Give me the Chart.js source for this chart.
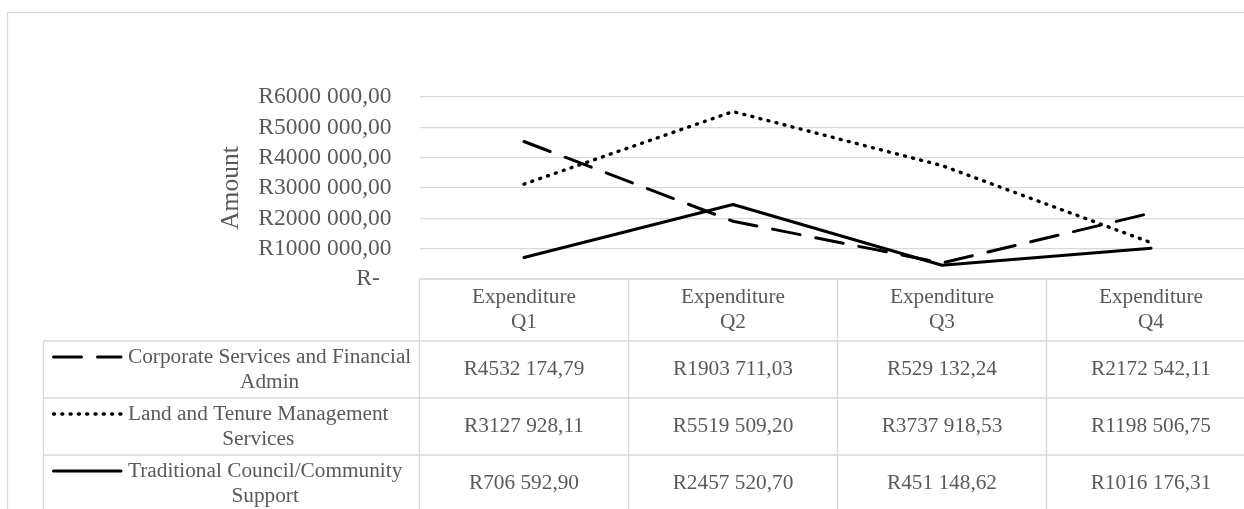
<!DOCTYPE html>
<html>
<head>
<meta charset="utf-8">
<script src="https://cdn.jsdelivr.net/npm/chart.js@4"></script>
<style>
  html, body { margin: 0; padding: 0; background: #fff; overflow: hidden; }
  #wrap { position: relative; width: 1270px; height: 520px; }
</style>
</head>
<body>
<div id="wrap"><canvas id="c" width="1270" height="520"></canvas></div>
<script>
// Quarterly expenditure per programme
const categories = [['Expenditure', 'Q1'], ['Expenditure', 'Q2'], ['Expenditure', 'Q3'], ['Expenditure', 'Q4']];
const seriesNames = [
  ['Corporate Services and Financial', 'Admin'],
  ['Land and Tenure Management', 'Services'],
  ['Traditional Council/Community', 'Support']
];
const corporateServices = [4532174.79, 1903711.03, 529132.24, 2172542.11];
const landTenure = [3127928.11, 5519509.20, 3737918.53, 1198506.75];
const traditionalCouncil = [706592.90, 2457520.70, 451148.62, 1016176.31];
const yMax = 6000000;
const yStep = 1000000;

const FONT = "'Liberation Serif', 'Times New Roman', serif";
const TEXT = '#595959';
const GRID = '#d9d9d9';

// Line styles per series (dash pattern used for both plot and table key)
const dashes = [[28, 16], [1, 7.3], []];
const widths = [3, 3.4, 3];

// Rand currency: "R4532 174,79", zero shown as "R-"
function rand(v) {
  if (v === 0) return 'R-  ';
  const [i, d] = v.toFixed(2).split('.');
  const head = i.length > 3 ? i.slice(0, -3) + ' ' + i.slice(-3) : i;
  return 'R' + head + ',' + d;
}

const seriesData = [corporateServices, landTenure, traditionalCouncil];

const dataTable = {
  id: 'dataTable',
  afterDraw(chart) {
    const { ctx, chartArea } = chart;
    const top = chartArea.bottom;
    const n = categories.length;
    const colW = (chartArea.right - chartArea.left) / n;
    const edges = [];
    for (let i = 0; i <= n; i++) edges.push(chartArea.left + i * colW);
    const keyLeft = 43.5;
    const headH = 62;
    const rowH = 57;
    const rowTops = [top + headH];
    for (let r = 1; r <= seriesNames.length; r++) rowTops.push(top + headH + r * rowH);

    ctx.save();
    // outer chart frame
    ctx.strokeStyle = GRID;
    ctx.lineWidth = 1.3;
    ctx.strokeRect(7.5, 12.5, 2000, 2000);

    // table grid
    ctx.lineWidth = 1.3;
    ctx.beginPath();
    ctx.moveTo(edges[0], top); ctx.lineTo(edges[n], top);
    rowTops.forEach(y => { ctx.moveTo(keyLeft, y); ctx.lineTo(edges[n], y); });
    edges.forEach(x => { ctx.moveTo(x, top); ctx.lineTo(x, rowTops[rowTops.length - 1]); });
    ctx.moveTo(keyLeft, rowTops[0]); ctx.lineTo(keyLeft, rowTops[rowTops.length - 1]);
    ctx.stroke();

    // header labels
    ctx.fillStyle = TEXT;
    ctx.font = '21.3px ' + FONT;
    ctx.textAlign = 'center';
    ctx.textBaseline = 'middle';
    const lh = 25;
    categories.forEach((lines, i) => {
      const cx = (edges[i] + edges[i + 1]) / 2;
      const cy = top + headH / 2;
      lines.forEach((t, k) => ctx.fillText(t, cx, cy + (k - (lines.length - 1) / 2) * lh));
    });

    // rows: key sample, series name, values
    seriesNames.forEach((lines, r) => {
      const cy = rowTops[r] + rowH / 2;
      const firstY = cy - (lines.length - 1) / 2 * lh;
      // key sample
      ctx.save();
      ctx.strokeStyle = '#000';
      ctx.lineWidth = widths[r];
      ctx.lineCap = 'round';
      ctx.setLineDash(dashes[r]);
      ctx.beginPath();
      ctx.moveTo(53.5, firstY);
      ctx.lineTo(121, firstY);
      ctx.stroke();
      ctx.restore();
      // name block, lines centred on the widest line
      const textLeft = 128;
      const lineW = lines.map(t => ctx.measureText(t).width);
      const blockW = Math.max(...lineW);
      lines.forEach((t, k) => ctx.fillText(t, textLeft + blockW / 2, firstY + k * lh));
      // values
      seriesData[r].forEach((v, i) => {
        ctx.fillText(rand(v), (edges[i] + edges[i + 1]) / 2, cy);
      });
    });
    ctx.restore();
  }
};

const ctx = document.getElementById('c').getContext('2d');
new Chart(ctx, {
  type: 'line',
  data: {
    labels: categories.map(c => c.join(' ')),
    datasets: seriesNames.map((name, i) => ({
      label: name.join(' '),
      data: seriesData[i],
      borderColor: '#000',
      borderWidth: widths[i],
      borderDash: dashes[i],
      borderCapStyle: 'round',
      borderJoinStyle: 'round',
      pointRadius: 0,
      tension: 0,
      fill: false
    }))
  },
  options: {
    responsive: false,
    animation: false,
    devicePixelRatio: 1,
    layout: { padding: { left: 0, top: 97, right: 14.5, bottom: 241 } },
    plugins: { legend: { display: false }, tooltip: { enabled: false } },
    scales: {
      x: {
        type: 'category',
        offset: true,
        display: false
      },
      y: {
        min: 0,
        max: yMax,
        border: { display: false },
        grid: { color: GRID, lineWidth: 1.3, drawTicks: false },
        ticks: {
          stepSize: yStep,
          autoSkip: false,
          padding: 28,
          color: TEXT,
          font: { family: FONT, size: 23.5 },
          callback: v => rand(v)
        },
        title: {
          display: true,
          text: 'Amount',
          color: TEXT,
          font: { family: FONT, size: 25.5 },
          padding: { top: 216, bottom: 0 }
        },
        afterFit(scale) { scale.width = 419.5; }
      }
    }
  },
  plugins: [dataTable]
});
</script>
</body>
</html>
